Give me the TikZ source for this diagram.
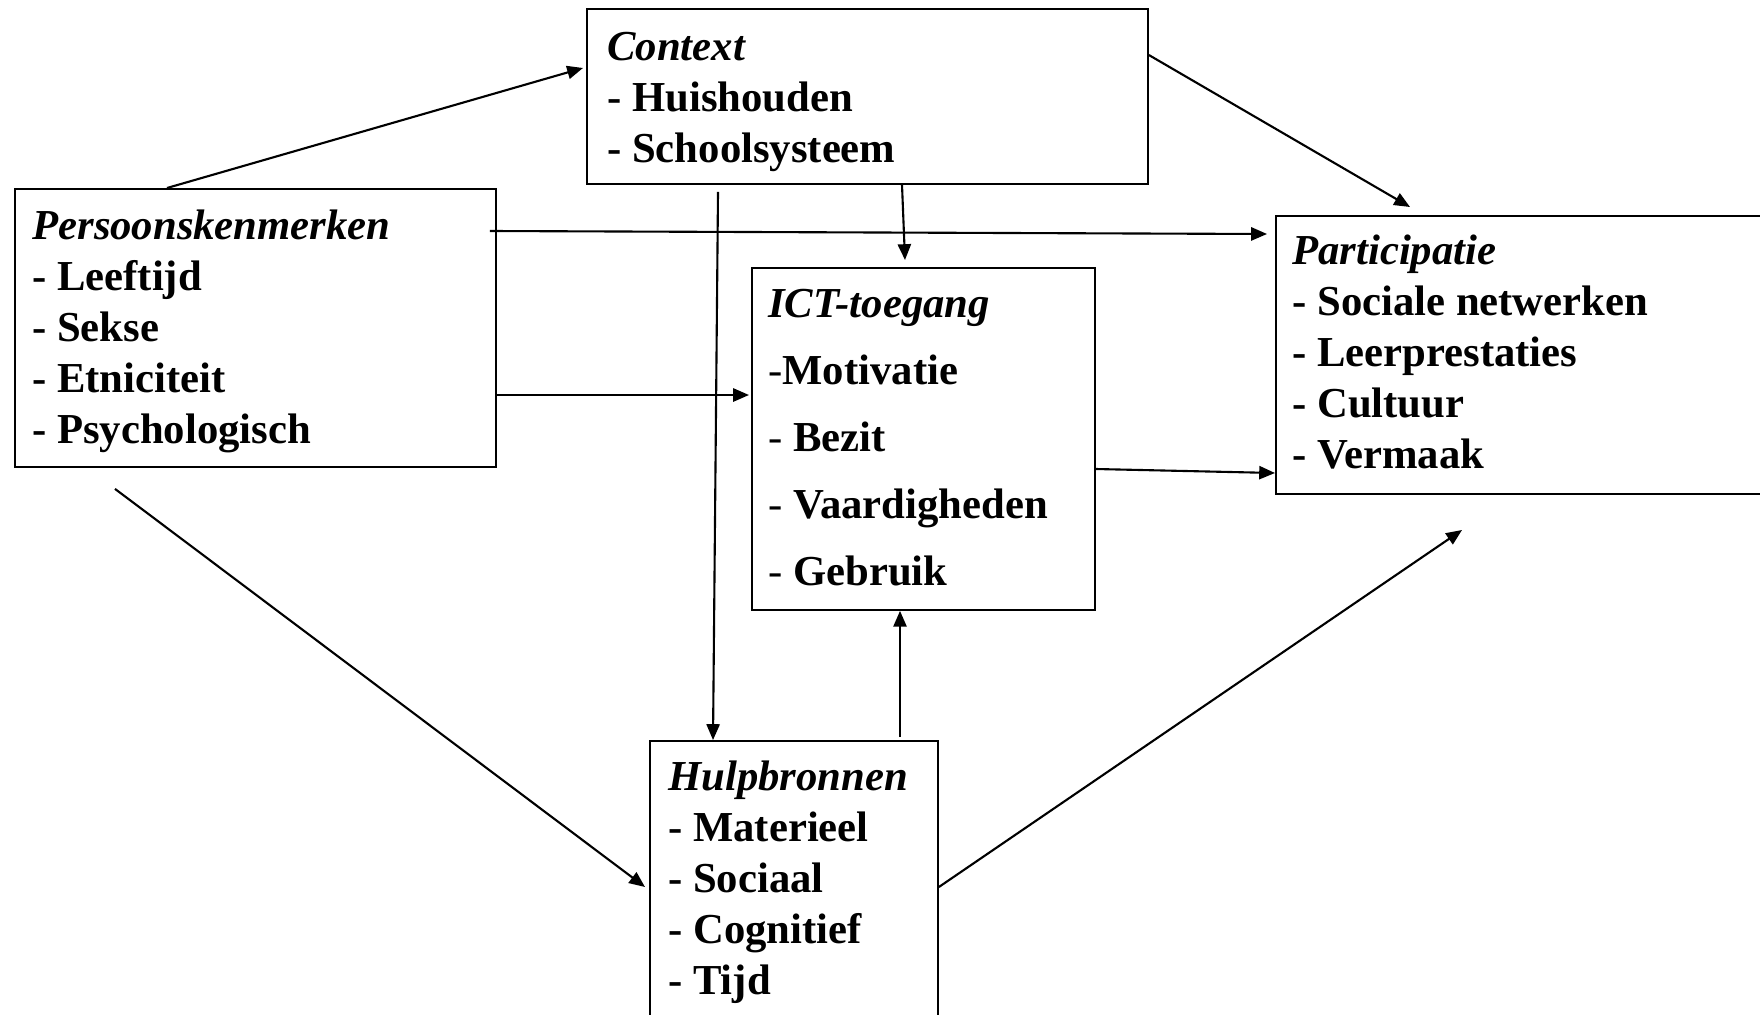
\documentclass[tikz,border=0pt]{standalone}
\usepackage{fontspec}
\setmainfont{Liberation Serif}
\usetikzlibrary{arrows.meta}
\usetikzlibrary{calc}

\begin{document}
\begin{tikzpicture}[x=0.02cm,y=-0.02cm,
	blok/.style={draw,line width=1.1pt,rectangle,anchor=north west,inner sep=0pt},
	tekst/.style={anchor=base west,inner sep=0pt,align=left,font=\fontsize{24.3}{29}\selectfont\bfseries},
	pijl/.style={line width=1.2pt,-{Triangle[length=9pt,width=7.5pt]}}]
\clip (0,0) rectangle (1760,1014);

% kaders
\node[blok,minimum width=11.22cm,minimum height=3.5cm] (context) at (586,8) {};
\node[blok,minimum width=9.62cm,minimum height=5.56cm] (pers) at (14,188) {};
\node[blok,minimum width=6.86cm,minimum height=6.84cm] (ict) at (751,267) {};
\node[blok,minimum width=10.1cm,minimum height=5.56cm] (part) at (1275,215) {};
\node[blok,minimum width=5.76cm,minimum height=5.8cm] (hulp) at (649,740) {};

% teksten (anker op de basislijn van de laatste regel)
\node[tekst] (context-t) at (607,162) {\textit{Context}\\- Huishouden\\- Schoolsysteem};
\node[tekst] (pers-t) at (32,443) {\textit{Persoonskenmerken}\\- Leeftijd\\- Sekse\\- Etniciteit\\- Psychologisch};
\node[tekst,font=\fontsize{24.3}{38}\selectfont\bfseries] (ict-t) at (768,585)
	{\textit{ICT-toegang}\\{\mdseries -}Motivatie\\{\mdseries -} Bezit\\{\mdseries -} Vaardigheden\\{\mdseries -} Gebruik};
\node[tekst] (part-t) at (1292,468) {\textit{Participatie}\\- Sociale netwerken\\- Leerprestaties\\- Cultuur\\- Vermaak};
\node[tekst] (hulp-t) at (668,994) {\textit{Hulpbronnen}\\- Materieel\\- Sociaal\\- Cognitief\\- Tijd};

% pijlen
\draw[pijl] ($(pers.north west)+(153,0)$) -- ($(context.north west)+(-3,60)$);
\draw[pijl] ($(pers.north east)+(-7,43)$) -- ($(part.north west)+(-8,19)$);
\draw[pijl] ($(pers.north east)+(0,207)$) -- ($(ict.north west)+(-2,128)$);
\draw[pijl] ($(pers.south west)+(101,21)$) -- ($(hulp.north west)+(-4,147)$);
\draw[pijl] ($(context.south west)+(132,7)$) -- ($(hulp.north west)+(64,0)$);
\draw[pijl] ($(context.south west)+(316,0)$) -- ($(ict.north west)+(154,-7)$);
\draw[pijl] ($(context.north east)+(0,47)$) -- ($(part.north west)+(135,-8)$);
\draw[pijl] ($(ict.north east)+(0,202)$) -- ($(part.north west)+(0,258)$);
\draw[pijl] ($(hulp.north west)+(251,-3)$) -- ($(ict.south west)+(149,0)$);
\coordinate (vrij) at (1462,530);
\draw[pijl] ($(hulp.north east)+(0,147)$) -- (vrij);
\end{tikzpicture}
\end{document}
